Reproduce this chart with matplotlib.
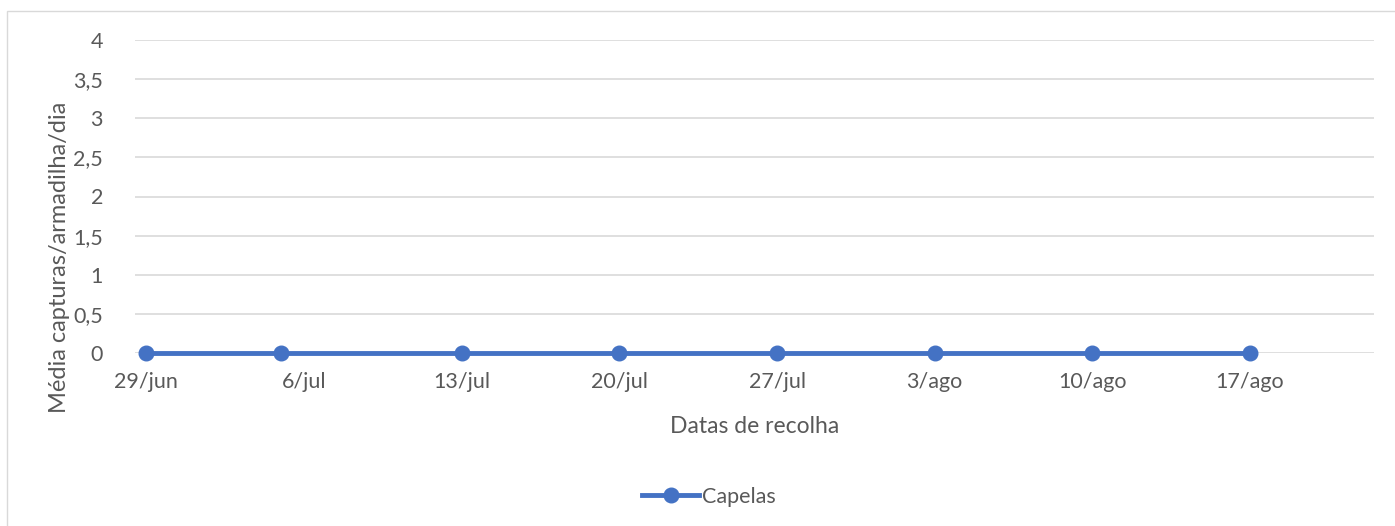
import matplotlib
matplotlib.use("Agg")
import matplotlib.pyplot as plt
from matplotlib.patches import Rectangle
import datetime as dt

# Data
dates = ["2020-06-29", "2020-07-05", "2020-07-13", "2020-07-20",
         "2020-07-27", "2020-08-03", "2020-08-10", "2020-08-17"]
capelas = [0, 0, 0, 0, 0, 0, 0, 0]
tick_dates = ["2020-06-29", "2020-07-06", "2020-07-13", "2020-07-20",
              "2020-07-27", "2020-08-03", "2020-08-10", "2020-08-17"]
tick_labels = ["29/jun", "6/jul", "13/jul", "20/jul", "27/jul", "3/ago", "10/ago", "17/ago"]
y_ticks = [0, 0.5, 1, 1.5, 2, 2.5, 3, 3.5, 4]
y_labels = ["0", "0,5", "1", "1,5", "2", "2,5", "3", "3,5", "4"]

x = [dt.datetime.strptime(d, "%Y-%m-%d") for d in dates]
xt = [dt.datetime.strptime(d, "%Y-%m-%d") for d in tick_dates]

plt.rcParams['font.family'] = ['Lato', 'DejaVu Sans']
txt = "#595959"
blue = "#4472C4"
grid = "#D9D9D9"

W, H = 1395, 526
fig = plt.figure(figsize=(W / 100, H / 100), dpi=100)
fig.patches.append(Rectangle((7/W, -0.1), 1.2, 1 - 11/H + 0.1, transform=fig.transFigure,
                             fill=False, edgecolor=grid, linewidth=1.0))
ax = fig.add_axes([135/W, 1 - 353/H, (1374 - 135)/W, (353 - 40)/H])

ax.plot(x, capelas, color=blue, linewidth=3.5, marker='o', markersize=10.5,
        label="Capelas", clip_on=False, zorder=3)

x0 = xt[0] - dt.timedelta(hours=12)
x1 = xt[0] + dt.timedelta(days=54, hours=12)
ax.set_xlim(x0, x1)
ax.set_ylim(0, 4)
ax.set_yticks(y_ticks)
ax.set_yticklabels(y_labels)
ax.set_xticks(xt)
ax.set_xticklabels(tick_labels)
ax.grid(axis='y', color=grid, linewidth=1.2)
ax.set_axisbelow(True)
for s in ax.spines.values():
    s.set_visible(False)
ax.tick_params(axis='both', length=0, colors=txt, labelsize=15.5)
ax.tick_params(axis='y', pad=23)
ax.tick_params(axis='x', pad=14)

ax.set_xlabel("Datas de recolha", fontsize=16.5, color=txt, labelpad=17)
fig.text(60/W, 1 - 257/H, "Média capturas/armadilha/dia", rotation=90,
         ha='center', va='center', fontsize=17, color=txt)

fig.legend(loc='center', bbox_to_anchor=(709/W, 1 - 497/H), frameon=False,
           fontsize=15.5, handlelength=2.65, handletextpad=0.15, labelcolor=txt)

fig.savefig("out.png", dpi=100)
